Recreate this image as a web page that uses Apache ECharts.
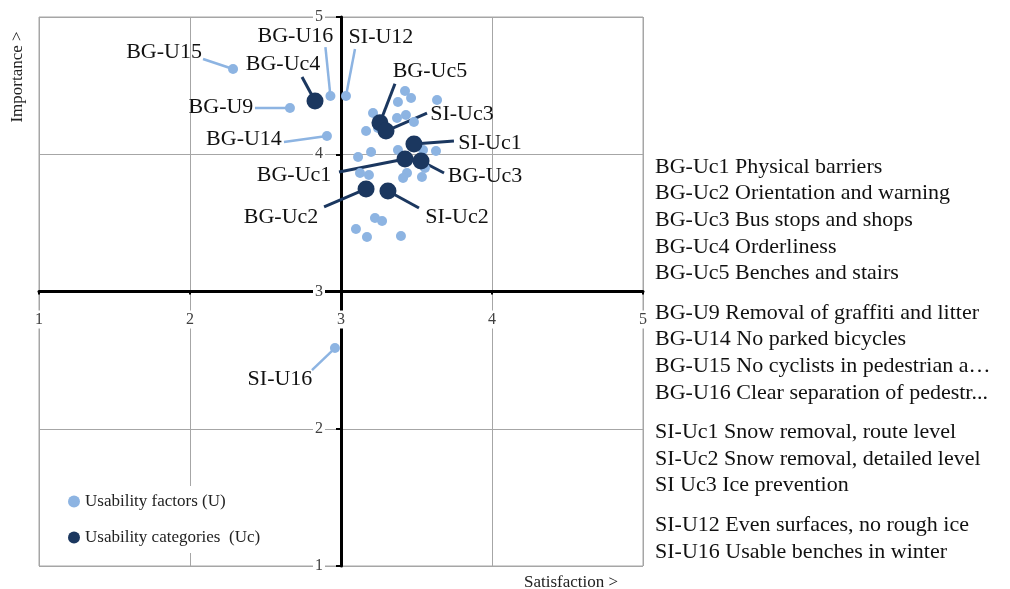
<!DOCTYPE html>
<html><head><meta charset="utf-8">
<script src="https://cdn.jsdelivr.net/npm/echarts@6/dist/echarts.min.js"></script>
<style>html,body{margin:0;padding:0;background:#fff}#c{width:1010px;height:589px}</style>
</head><body><div id="c"></div>
<script>
// ---- data ----
const axisMin = 1, axisMax = 5, axisStep = 1;
const crossAt = 3;

const factorNames = ['BG-U15','BG-U9','BG-U14','BG-U16','SI-U12','SI-U16',
  '','','','','','','','','','','','','','','','','','','','','','','','','','',''];
const factorValues = [
  [2.285,4.621],[2.662,4.337],[2.907,4.133],[2.930,4.424],[3.033,4.424],[2.960,2.588],
  [3.424,4.461],[3.464,4.410],[3.377,4.381],[3.636,4.395],[3.212,4.301],[3.371,4.264],
  [3.430,4.286],[3.483,4.235],[3.166,4.169],[3.245,4.191],[3.497,4.097],[3.113,3.980],
  [3.199,4.016],[3.377,4.031],[3.543,4.031],[3.629,4.024],[3.126,3.863],[3.185,3.849],
  [3.437,3.863],[3.411,3.827],[3.536,3.834],[3.556,3.900],[3.225,3.536],[3.272,3.514],
  [3.099,3.455],[3.172,3.397],[3.397,3.404]
];
const categoryNames = ['BG-Uc4','BG-Uc5','SI-Uc3','SI-Uc1','BG-Uc1','BG-Uc3','BG-Uc2','SI-Uc2'];
const categoryValues = [
  [2.828,4.388],[3.258,4.230],[3.298,4.169],[3.483,4.075],
  [3.424,3.965],[3.530,3.951],[3.166,3.747],[3.311,3.732]
];
const legendNames = ['Usability factors (U)', 'Usability categories  (Uc)'];
const axisTitleX = 'Satisfaction >';
const axisTitleY = 'Importance >';
const descriptionGroups = [
  ['BG-Uc1 Physical barriers','BG-Uc2 Orientation and warning','BG-Uc3 Bus stops and shops','BG-Uc4 Orderliness','BG-Uc5 Benches and stairs'],
  ['BG-U9 Removal of graffiti and litter','BG-U14 No parked bicycles','BG-U15 No cyclists in pedestrian a\u2026','BG-U16 Clear separation of pedestr...'],
  ['SI-Uc1 Snow removal, route level','SI-Uc2 Snow removal, detailed level','SI Uc3 Ice prevention'],
  ['SI-U12 Even surfaces, no rough ice','SI-U16 Usable benches in winter']
];

// ---- layout / style: pixel offsets of labels and leader-line ends from their points ----
const labelOffsets = {
  'BG-U15':[-69,-17],'BG-U9':[-69,-1],'BG-U14':[-83,3],'BG-U16':[-35,-60],'SI-U12':[35,-59],'SI-U16':[-55,31],
  'BG-Uc4':[-32,-37],'BG-Uc5':[50,-51],'SI-Uc3':[76,-17],'SI-Uc1':[76,-1],'BG-Uc1':[-111,16],
  'BG-Uc3':[64,15],'BG-Uc2':[-85,28],'SI-Uc2':[69,26]
};
const lineEnds = {
  'BG-U15':[-30,-10],'BG-U9':[-35,0],'BG-U14':[-43,6],'BG-U16':[-5,-49],'SI-U12':[9,-47],'SI-U16':[-23,22],
  'BG-Uc4':[-13,-24],'BG-Uc5':[15,-39],'SI-Uc3':[41,-18],'SI-Uc1':[40,-3],'BG-Uc1':[-66,13],
  'BG-Uc3':[23,12],'BG-Uc2':[-42,18],'SI-Uc2':[31,17]
};
const FONT = "'Liberation Serif','Times New Roman',serif";
const lightColor = '#8db4e2';
const darkColor = '#1b375f';
const gridColor = '#a6a6a6';

const chart = echarts.init(document.getElementById('c'), null, {renderer:'canvas'});

const gridBox = {left:39, top:17, right:367, bottom:23};
const plotW = 1010 - gridBox.left - gridBox.right;
const plotH = 589 - gridBox.top - gridBox.bottom;
const xOffset = -plotH * (crossAt - axisMin) / (axisMax - axisMin);
const yOffset = -plotW * (crossAt - axisMin) / (axisMax - axisMin);

const base = {type:'value', min:axisMin, max:axisMax, interval:axisStep};
const none = {axisLine:{show:false}, axisTick:{show:false}, axisLabel:{show:false}, splitLine:{show:false}};
const tickLabel = {show:true, color:'#404040', fontFamily:FONT, fontSize:16, backgroundColor:'#fff', padding:[1,2]};

function mkData(names, values){
  return values.map((v,i)=>({name:names[i], value:v, label:{show: !!names[i]}}));
}
function layoutFor(names){
  return function(p){
    const o = labelOffsets[names[p.dataIndex]];
    return o ? {dx:o[0], dy:o[1]} : {};
  };
}
const labelStyle = {position:'inside', color:'#111', fontFamily:FONT, fontSize:22, formatter:'{b}'};

function leaderSeries(names, values, color, width){
  const data = [];
  values.forEach((v,i)=>{ if (lineEnds[names[i]]) data.push([v[0], v[1], i]); });
  return {
    type:'custom', coordinateSystem:'cartesian2d', z:4, silent:true,
    encode:{x:0, y:1},
    data:data,
    renderItem:function(params, api){
      const p = api.coord([api.value(0), api.value(1)]);
      const o = lineEnds[names[api.value(2)]];
      return {type:'line', shape:{x1:p[0], y1:p[1], x2:p[0]+o[0], y2:p[1]+o[1]},
        style:{stroke:color, lineWidth:width, lineCap:'butt'}};
    }
  };
}

const graphics = [];
descriptionGroups.forEach((g, gi)=>{
  let before = 0; for (let k=0;k<gi;k++) before += descriptionGroups[k].length;
  g.forEach((t, li)=>{
    graphics.push({type:'text', x:655, y:167 + (before+li)*26.6 + gi*13,
      style:{text:t, fill:'#111', font:'22px '+FONT, textAlign:'left', textVerticalAlign:'middle'}});
  });
});
graphics.push({type:'text', x:524, y:583, style:{text:axisTitleX, fill:'#222', font:'17px '+FONT, textAlign:'left', textVerticalAlign:'middle'}});
graphics.push({type:'text', x:18, y:77, rotation:Math.PI/2, style:{text:axisTitleY, fill:'#222', font:'17px '+FONT, textAlign:'center', textVerticalAlign:'middle'}});

chart.setOption({
  animation:false,
  backgroundColor:'#fff',
  grid:{...gridBox, show:true, borderColor:gridColor, borderWidth:1, containLabel:false, outerBoundsMode:'none'},
  xAxis:[
    {...base, ...none, position:'bottom', splitLine:{show:true, lineStyle:{color:gridColor, width:1}}},
    {...base, ...none, position:'bottom', offset:xOffset, z:3,
      axisLine:{show:true, onZero:false, lineStyle:{color:'#000', width:3}},
      axisTick:{show:true, length:3, lineStyle:{color:'#000', width:2}}},
    {...base, ...none, position:'bottom', offset:xOffset, z:4,
      axisLabel:{...tickLabel, margin:19}}
  ],
  yAxis:[
    {...base, ...none, position:'left', splitLine:{show:true, lineStyle:{color:gridColor, width:1}}},
    {...base, ...none, position:'left', offset:yOffset, z:3,
      axisLine:{show:true, onZero:false, lineStyle:{color:'#000', width:3}},
      axisTick:{show:true, length:5, lineStyle:{color:'#000', width:2}}},
    {...base, ...none, position:'left', offset:yOffset, z:4,
      axisLabel:{...tickLabel, margin:16}}
  ],
  legend:{
    orient:'vertical', left:60, top:486, itemGap:19, itemWidth:12, itemHeight:12,
    backgroundColor:'#fff', padding:[7,8], selectedMode:false, icon:'circle',
    textStyle:{fontFamily:FONT, fontSize:17, color:'#222'},
    data:legendNames
  },
  series:[
    leaderSeries(factorNames, factorValues, lightColor, 2.5),
    leaderSeries(categoryNames, categoryValues, darkColor, 3),
    {name:legendNames[0], type:'scatter', symbolSize:10, z:5,
      itemStyle:{color:lightColor, opacity:1},
      data:mkData(factorNames, factorValues),
      label:labelStyle,
      labelLayout:layoutFor(factorNames),
      emphasis:{disabled:true}},
    {name:legendNames[1], type:'scatter', symbolSize:17, z:6,
      itemStyle:{color:darkColor, opacity:1},
      data:mkData(categoryNames, categoryValues),
      label:labelStyle,
      labelLayout:layoutFor(categoryNames),
      emphasis:{disabled:true}}
  ],
  graphic:graphics
});
</script></body></html>
